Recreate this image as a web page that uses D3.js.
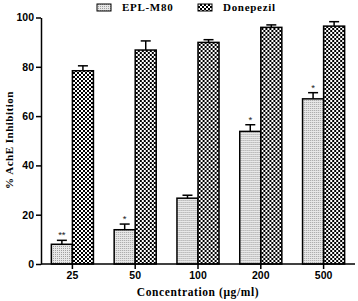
<!DOCTYPE html>
<html><head><meta charset="utf-8">
<script src="https://cdn.jsdelivr.net/npm/d3@7"></script>
<style>body{margin:0;background:#fff}svg{display:block}</style>
</head><body>
<script>
const categories = ["25","50","100","200","500"];
const seriesNames = ["EPL-M80","Donepezil"];
const eplValues = [8.0, 13.9, 26.7, 53.8, 67.0];
const eplErrors = [1.6, 2.3, 1.2, 2.7, 2.5];
const donValues = [78.4, 86.8, 89.9, 96.0, 96.5];
const donErrors = [2.0, 3.7, 1.1, 1.0, 1.8];
const stars = ["**","*","","*","*"];
const yTicks = [0,20,40,60,80,100];

const W=358,H=301;
const svg=d3.select("body").append("svg").attr("width",W).attr("height",H);
const defs=svg.append("defs");
const p1=defs.append("pattern").attr("id","dots").attr("patternUnits","userSpaceOnUse").attr("width",2).attr("height",2);
p1.append("rect").attr("width",2).attr("height",2).attr("fill","#e8e8e8");
p1.append("rect").attr("width",1).attr("height",1).attr("fill","#a0a0a0");
const p2=defs.append("pattern").attr("id","check").attr("patternUnits","userSpaceOnUse").attr("width",4).attr("height",4);
p2.append("rect").attr("width",4).attr("height",4).attr("fill","#fff");
p2.append("rect").attr("width",2).attr("height",2).attr("fill","#000");
p2.append("rect").attr("x",2).attr("y",2).attr("width",2).attr("height",2).attr("fill","#000");

const x0=d3.scaleBand().domain(categories).range([41,355]).padding(0);
const bw=x0.bandwidth();
const x1=d3.scaleBand().domain(seriesNames).range([bw*0.165,bw*0.835]).padding(0);
const y=d3.scaleLinear().domain([0,100]).range([264,17.5]);

const fills={"EPL-M80":"url(#dots)","Donepezil":"url(#check)"};
const data=categories.map((c,i)=>({c,vals:[
  {s:"EPL-M80",v:eplValues[i],e:eplErrors[i],star:stars[i]},
  {s:"Donepezil",v:donValues[i],e:donErrors[i],star:""}]}));

const g=svg.append("g");
const grp=g.selectAll("g.grp").data(data).join("g").attr("transform",d=>`translate(${x0(d.c)},0)`);
grp.each(function(d){
  const gg=d3.select(this);
  d.vals.forEach(b=>{
    const bx=x1(b.s), w=x1.bandwidth(), cx=bx+w/2;
    gg.append("line").attr("x1",cx).attr("x2",cx).attr("y1",y(b.v)).attr("y2",y(b.v+b.e)).attr("stroke","#000").attr("stroke-width",1.5);
    gg.append("line").attr("x1",cx-5).attr("x2",cx+5).attr("y1",y(b.v+b.e)).attr("y2",y(b.v+b.e)).attr("stroke","#000").attr("stroke-width",1.5);
    gg.append("rect").attr("x",bx).attr("y",y(b.v)).attr("width",w).attr("height",y(0)-y(b.v))
      .attr("fill",fills[b.s]).attr("stroke","#000").attr("stroke-width",1.5);
    if(b.star){
      gg.append("text").attr("x",cx).attr("y",y(b.v+b.e)-2).attr("text-anchor","middle")
        .attr("font-family","Liberation Sans, Arial").attr("font-size",9.5).attr("fill","#222").text(b.star);
    }
  });
});

const yAxis=svg.append("g").attr("transform","translate(41,0)")
  .call(d3.axisLeft(y).tickValues(yTicks).tickSize(5).tickPadding(2).tickSizeOuter(0));
const xAxis=svg.append("g").attr("transform","translate(0,264)")
  .call(d3.axisBottom(x0).tickSize(5).tickPadding(3).tickSizeOuter(0));
[yAxis,xAxis].forEach(a=>{
  a.select(".domain").attr("stroke","#000").attr("stroke-width",1.5);
  a.selectAll(".tick line").attr("stroke","#000").attr("stroke-width",1.5);
  a.selectAll(".tick text").attr("font-family","Liberation Sans, Arial").attr("font-weight","bold").attr("font-size",10.5).attr("fill","#000");
});
xAxis.select(".domain").attr("d","M41,0H355");

svg.append("text").attr("transform","translate(13,140) rotate(-90)").attr("text-anchor","middle")
  .attr("font-family","Liberation Serif, Times New Roman").attr("font-weight","bold").attr("font-size",11).attr("letter-spacing",0.5).text("% AchE Inhibition");
svg.append("text").attr("x",198).attr("y",296).attr("text-anchor","middle")
  .attr("font-family","Liberation Serif, Times New Roman").attr("font-weight","bold").attr("font-size",11.5).attr("letter-spacing",0.6).text("Concentration (μg/ml)");

const legX=[97,198];
seriesNames.forEach((s,i)=>{
  svg.append("rect").attr("x",legX[i]).attr("y",4).attr("width",14).attr("height",7)
    .attr("fill",fills[s]).attr("stroke","#000").attr("stroke-width",1);
  svg.append("text").attr("x",legX[i]+25).attr("y",11).attr("font-family","Liberation Serif, Times New Roman")
    .attr("font-weight","bold").attr("font-size",11).attr("letter-spacing",0.7).text(s);
});
</script>
</body></html>
